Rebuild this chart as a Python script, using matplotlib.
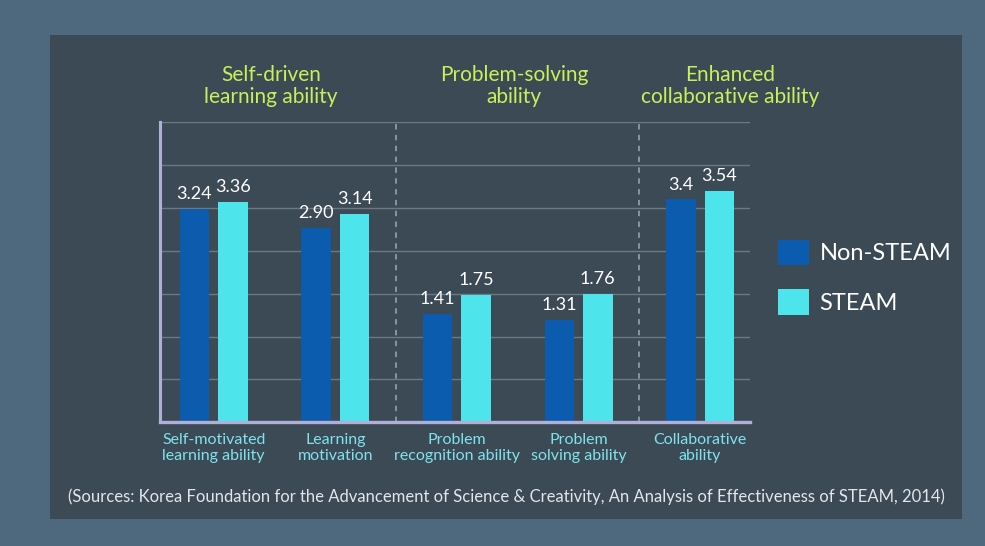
import matplotlib.pyplot as plt
import numpy as np
from matplotlib.patches import Rectangle

# data
categories = ['Self-motivated\nlearning ability', 'Learning\nmotivation',
              'Problem\nrecognition ability', 'Problem\nsolving ability',
              'Collaborative\nability']
non_steam = [3.24, 2.90, 1.41, 1.31, 3.40]
steam = [3.36, 3.14, 1.75, 1.76, 3.54]
non_steam_labels = ['3.24', '2.90', '1.41', '1.31', '3.4']
steam_labels = ['3.36', '3.14', '1.75', '1.76', '3.54']
group_titles = ['Self-driven\nlearning ability', 'Problem-solving\nability',
                'Enhanced\ncollaborative ability']
source = ('(Sources: Korea Foundation for the Advancement of Science & Creativity, '
          'An Analysis of Effectiveness of STEAM, 2014)')

plt.rcParams['font.family'] = ['Lato', 'DejaVu Sans']

dark_blue = '#0b5cae'
cyan = '#4de4ec'
title_green = '#c9ef5a'
cat_color = '#7fe3ea'
spine_color = '#aeb0d6'

fig = plt.figure(figsize=(9.85, 5.46), dpi=100)
fig.patch.set_facecolor('#4e687d')
# dark panel behind the chart
fig.patches.append(Rectangle((0.051, 0.049), 0.926, 0.887, transform=fig.transFigure,
                             facecolor='#3c4a56', edgecolor='none', zorder=-5))

ax = fig.add_axes([0.1624, 0.2264, 0.599, 0.5502])
ax.set_facecolor('none')
ax.set_zorder(2)

# axis starts a bit below zero, like the original infographic
base = -0.47
top = 4.745
x = np.arange(len(categories))
w = 0.243
off = 0.158

b1 = ax.bar(x - off, np.array(non_steam) - base, w, bottom=base, color=dark_blue,
            label='Non-STEAM', zorder=3)
b2 = ax.bar(x + off, np.array(steam) - base, w, bottom=base, color=cyan,
            label='STEAM', zorder=3)
ax.bar_label(b1, labels=non_steam_labels, padding=5, color='white', fontsize=13)
ax.bar_label(b2, labels=steam_labels, padding=5, color='white', fontsize=13)

ax.set_xlim(-0.442, 4.41)
ax.set_ylim(base, top)
ax.set_yticks(np.linspace(base, top, 8))
ax.yaxis.grid(True, color='#8a9aa6', alpha=0.6, linewidth=1, zorder=0)
ax.tick_params(left=False, bottom=False, labelleft=False, labelbottom=False)

for sp in ['top', 'right']:
    ax.spines[sp].set_visible(False)
ax.spines['left'].set_color(spine_color)
ax.spines['left'].set_linewidth(2.2)
ax.spines['bottom'].set_color(spine_color)
ax.spines['bottom'].set_linewidth(2.4)
ax.spines['bottom'].set_zorder(4)

for xs in [1.5, 3.5]:
    ax.axvline(xs, color='#a3b0ba', linewidth=1.3, linestyle=(0, (3, 3)), alpha=0.8, zorder=1)

# category labels under the axis
for xi, c in zip(x, categories):
    ax.text(xi, -0.085, c, transform=ax.get_xaxis_transform(), ha='center', va='center',
            color=cat_color, fontsize=11.5, linespacing=1.25)

# group titles above
for xt, t in zip([0.47, 2.47, 4.25], group_titles):
    ax.text(xt, 1.12, t, transform=ax.get_xaxis_transform(), ha='center', va='center',
            color=title_green, fontsize=15, linespacing=1.1)

fig.legend(handles=[b1, b2], loc='upper left', bbox_to_anchor=(0.79, 0.561),
           frameon=False, fontsize=17, labelcolor='white', handlelength=1.3,
           handleheight=1.3, handletextpad=0.45, labelspacing=1.0, borderpad=0,
           borderaxespad=0)

fig.text(0.514, 0.09, source, ha='center', va='center', color='#e2e6ea', fontsize=12)

plt.savefig('out.png', dpi=100, facecolor=fig.get_facecolor())
